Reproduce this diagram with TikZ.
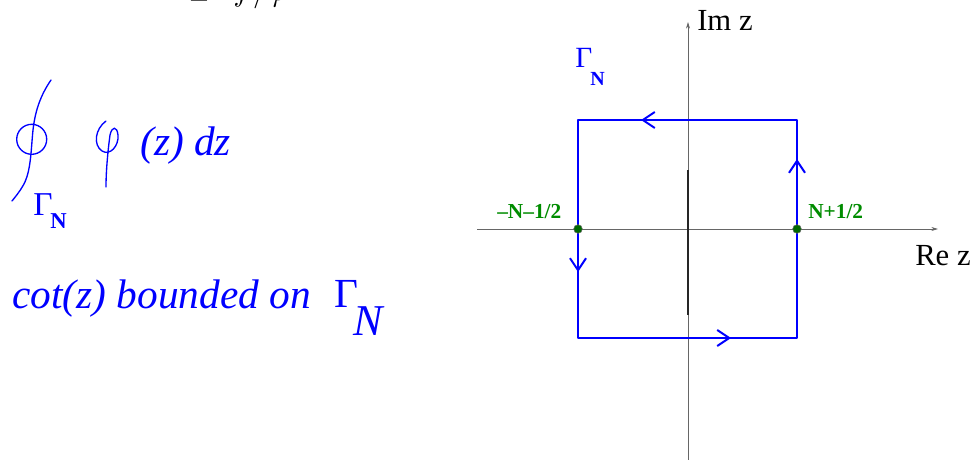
\documentclass[tikz,border=0pt]{standalone}
\usepackage{fontspec}
\setmainfont{Liberation Serif}
\usetikzlibrary{arrows.meta}
\definecolor{contourblue}{RGB}{0,0,255}
\definecolor{pointgreen}{RGB}{0,140,0}
\newcommand{\fsz}[1]{\fontsize{#1}{#1}\selectfont}
\tikzset{
  contour/.style={contourblue,line width=1.5pt,line join=round},
  flow/.style={contour,-{Straight Barb[length=9pt,width=12pt,line width=1.5pt]}},
  axisline/.style={black!60,line width=0.6pt,-{Stealth[length=5pt,width=3pt]}},
  stroke/.style={contourblue,line width=1pt,line cap=round},
  ptdot/.style={circle,fill=pointgreen!75!black,draw=black!60,inner sep=0pt,minimum size=6.5pt},
  ptlabel/.style={pointgreen,font=\fsz{16}\bfseries,anchor=base west,inner sep=0pt},
  bluetext/.style={contourblue,anchor=base west,inner sep=0pt},
  axislabel/.style={black,font=\fsz{23},anchor=base west,inner sep=0pt}
}
\begin{document}
\begin{tikzpicture}[x=0.75pt,y=-0.75pt]
\useasboundingbox (0,0) rectangle (970,460);
% cut-off formula at the top
\node[anchor=south west,inner sep=0pt,font=\fsz{28}] (topformula) at (190,9) {$\displaystyle\sum\;\; f/\varphi$};
% contour integral, drawn by hand
\draw[stroke] (31.7,139.3) circle (15);
\draw[stroke] (51,80) .. controls (40,96) and (35,112) .. (33,130)
  .. controls (31,150) and (31,168) .. (25,182) .. controls (21,190) and (16,196) .. (12,201);
\node[bluetext,font=\fsz{25}] (gint) at (33,215) {Γ};
\node[bluetext,font=\fsz{17}\bfseries] (nint) at (50,228) {N};
\draw[stroke] (106,121) .. controls (95,129) and (93,145) .. (102,151)
  .. controls (110,156) and (119,146) .. (118,135) .. controls (117,126) and (112,126) .. (110,135)
  .. controls (108,150) and (106,170) .. (106,187);
\node[bluetext,font=\fsz{31}\itshape] (integrand) at (140,155) {(z) dz};
\node[bluetext,font=\fsz{31}\itshape] (bounded) at (12,308) {cot(z) bounded on};
\node[bluetext,font=\fsz{31}] (gbig) at (334,307) {Γ};
\node[bluetext,font=\fsz{33}\itshape] (nbig) at (353,335) {N};
% axes
\coordinate (xa) at (477,229);
\coordinate (xb) at (938,229);
\coordinate (ya) at (688,460);
\coordinate (yb) at (688,22);
\draw[axisline] (xa) -- (xb);
\draw[axisline] (ya) -- (yb);
\draw[black!85,line width=0.8pt] (688,170) -- (688,315);
\node[axislabel] (imz) at (697,31) {Im z};
\node[axislabel] (rez) at (915,265) {Re z};
% square contour
\coordinate (bl) at (578,338);
\coordinate (br) at (797,338);
\coordinate (tr) at (797,120);
\coordinate (tl) at (578,120);
\draw[contour] (bl) -- (br) -- (tr) -- (tl) -- cycle;
\draw[flow] (tr) -- (641,120);
\draw[flow] (797,229) -- (797,159);
\draw[flow] (tl) -- (578,272);
\draw[flow] (bl) -- (731,338);
\node[bluetext,font=\fsz{22}] (gsq) at (575,68) {Γ};
\node[bluetext,font=\fsz{15}\bfseries] (nsq) at (590,85) {N};
% crossing points
\node[ptdot] (lpt) at (578,229) {};
\node[ptdot] (rpt) at (797,229) {};
\node[ptlabel] (llab) at (497,218) {–N–1/2};
\node[ptlabel] (rlab) at (808,218) {N+1/2};
\end{tikzpicture}
\end{document}
